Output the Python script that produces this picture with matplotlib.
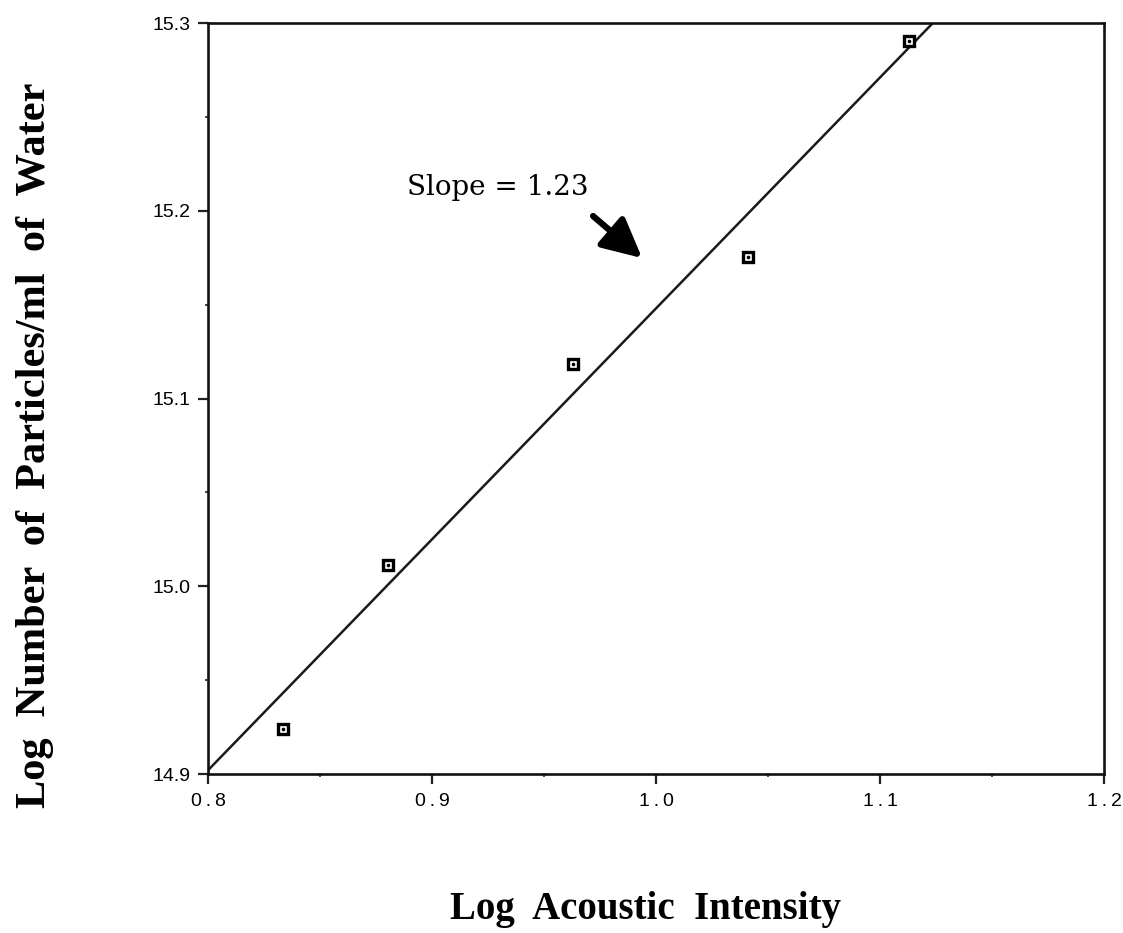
import numpy as np
import matplotlib
matplotlib.use('Agg')
import matplotlib.pyplot as plt
from matplotlib.ticker import MultipleLocator, FixedLocator

# measured points (log10 values)
log_intensity = [0.8335, 0.8804, 0.9629, 1.0411, 1.1129]
log_particles = [14.924, 15.0113, 15.1184, 15.1754, 15.2904]

# regression line
slope = 1.23
fit_x0, fit_y0 = 0.8, 14.902

xticks = [0.8, 0.9, 1.0, 1.1, 1.2]
yticks = [14.9, 15.0, 15.1, 15.2, 15.3]

fig = plt.figure(figsize=(11.23, 9.33), dpi=100)
ax = fig.add_axes([0.1852, 0.1704, 0.7979, 0.8049])

# fitted line, runs until it leaves the box at the top
x_end = fit_x0 + (yticks[-1] - fit_y0) / slope
fx = np.array([fit_x0, x_end])
ax.plot(fx, fit_y0 + slope * (fx - fit_x0), color='#1a1a1a', lw=1.8, solid_capstyle='butt')

ax.plot(log_intensity, log_particles, linestyle='none', marker='s', ms=7,
        mfc='white', mec='black', mew=2.4)
ax.plot(log_intensity, log_particles, linestyle='none', marker='o', ms=1.6,
        mfc='black', mec='black')

ax.set_xlim(0.8, 1.2)
ax.set_ylim(14.9, 15.3)

ax.xaxis.set_major_locator(FixedLocator(xticks))
ax.yaxis.set_major_locator(FixedLocator(yticks))
ax.xaxis.set_minor_locator(MultipleLocator(0.05))
ax.yaxis.set_minor_locator(MultipleLocator(0.05))
ax.set_xticklabels(['\u2009.\u2009'.join(f'{v:.1f}'.split('.')) for v in xticks],
                   fontsize=14, family=['Liberation Sans', 'DejaVu Sans'])
ax.set_yticklabels([f'{v:.1f}' for v in yticks], fontsize=14,
                   family=['Liberation Sans', 'DejaVu Sans'])

ax.tick_params(axis='both', which='major', direction='out', length=7.5, width=1.6,
               color='#222222')
ax.tick_params(axis='both', which='minor', direction='out', length=2.5, width=1.4,
               color='#444444')
ax.tick_params(axis='x', which='major', pad=6)
ax.tick_params(axis='y', which='major', pad=5)

for side in ax.spines.values():
    side.set_linewidth(1.9)
    side.set_color('#111111')

ax.text(0.8888, 15.2084, 'Slope = 1.23', fontsize=20, family='DejaVu Serif',
        ha='left', va='baseline')
ax.annotate('', xy=(0.9938, 15.1748), xytext=(0.9719, 15.1972),
            arrowprops=dict(arrowstyle='-|>,head_length=1.0,head_width=0.5',
                            lw=4.5, color='black', mutation_scale=24,
                            shrinkA=0, shrinkB=0))

fig.text(645 / 1123, 1 - 919 / 933, 'Log  Acoustic  Intensity', fontsize=28,
         fontweight='bold', family='Liberation Serif', ha='center', va='baseline')
fig.text(0.031, 1 - 445 / 933, 'Log  Number  of  Particles/ml  of  Water', fontsize=30.5,
         fontweight='bold', family='Liberation Serif', rotation=90,
         ha='center', va='center')

fig.savefig('out.png', dpi=100)
